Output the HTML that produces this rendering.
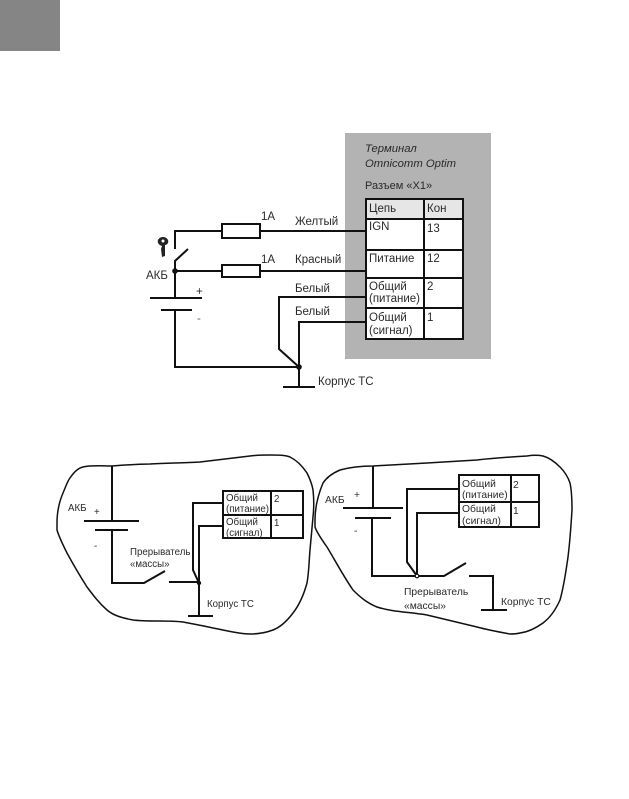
<!DOCTYPE html>
<html><head><meta charset="utf-8"><style>
html,body{margin:0;padding:0;background:#fff;width:629px;height:799px;overflow:hidden}
svg{display:block;filter:blur(.35px)}
text{font-family:"Liberation Sans",sans-serif;fill:#2a2a2a;font-size:11.5px}
.w{fill:none;stroke:#111;stroke-width:2}
.t{fill:none;stroke:#111;stroke-width:2}
.s{font-size:10.3px}
.l{font-size:9.7px}
.b{fill:none;stroke:#111;stroke-width:1.5}
</style></head><body>
<svg width="629" height="799" viewBox="0 0 629 799" xmlns="http://www.w3.org/2000/svg">
<rect x="0" y="0" width="60" height="51" fill="#858585"/>
<rect x="345" y="133" width="146" height="226" fill="#b3b3b3"/>
<rect x="366" y="199" width="97" height="20" fill="#e6e6e6"/>
<rect x="366" y="219" width="97" height="120" fill="#fff"/>
<path class="t" d="M366 199H463V339H366ZM424 199V339M366 219H463M366 250H463M366 278H463M366 308H463"/>
<text x="365" y="152" font-style="italic" style="font-size:11.3px">Терминал</text>
<text x="365" y="167" font-style="italic" style="font-size:11.3px">Omnicomm Optim</text>
<text x="365" y="189" style="font-size:11px">Разъем «X1»</text>
<text x="369" y="212">Цепь</text><text x="427" y="212">Кон</text>
<text x="369" y="230">IGN</text><text x="427" y="232">13</text>
<text x="369" y="262">Питание</text><text x="427" y="262">12</text>
<text x="369" y="290">Общий</text><text x="369" y="302">(питание)</text><text x="427" y="290">2</text>
<text x="369" y="321">Общий</text><text x="369" y="334">(сигнал)</text><text x="427" y="321">1</text>

<path class="w" d="M175 249V231H222M260 231H366"/>
<rect class="w" x="222" y="224" width="38" height="14"/>
<path class="w" d="M175 271V261L188 249M175 271H222M260 271H366"/>
<rect class="w" x="222" y="265" width="38" height="12"/>
<path class="w" d="M175 271V298M150 298H202M161 310H192M175 310V367H299M299 367V387M283 387H315"/>
<path class="w" d="M366 297H279V349L299 367M366 322H299V367"/>
<circle cx="175" cy="271" r="2.8" fill="#111"/><circle cx="299" cy="367" r="2.8" fill="#111"/>
<path d="M158 240C160 236 166 236 168 240C169 243 167 245 165 245L165 256L162 257L161 249L162 246C159 245 157 243 158 240Z" fill="#222"/>
<circle cx="163" cy="241" r="1.5" fill="#fff"/>
<text x="261" y="220">1A</text><text x="295" y="225">Желтый</text>
<text x="261" y="263">1A</text><text x="295" y="263">Красный</text>
<text x="295" y="292">Белый</text><text x="295" y="315">Белый</text>
<text x="146" y="279">АКБ</text><text x="196" y="295">+</text><text x="197" y="322" style="fill:#666">-</text>
<text x="318" y="385">Корпус ТС</text>

<path class="b" d="M57 523C57 510 60 500 63 493C66 486 68 480 70 478C74 472 78 468 83 467C92 465 102 466 112 466C125 465 138 464 150 464C167 463 184 463 200 462C217 460 234 458 250 456C258 455 264 455 270 455C278 455 285 455 290 457C298 461 303 467 307 473C310 479 312 484 313 490C314 499 314 508 313 517C312 528 311 539 310 550C309 561 309 572 307 583C304 594 300 604 293 613C287 621 281 627 273 630C265 633 258 634 250 634C244 634 239 633 233 632C217 629 200 625 183 622C166 620 150 622 133 620C123 618 114 616 107 610C99 603 93 595 87 587C80 576 73 564 67 553C63 545 59 537 57 530Z"/>
<path class="b" d="M315 520C315 508 318 495 323 483C327 477 333 473 340 470C351 467 362 466 373 466C391 465 409 464 427 463C444 462 460 461 477 460C494 458 510 457 527 456C533 455 538 455 543 456C550 458 555 462 560 467C565 472 568 477 570 483C572 492 572 501 572 510C571 526 570 541 568 557C566 571 564 586 560 600C556 609 551 617 543 623C536 628 528 632 520 633C516 634 513 634 510 634C499 632 488 630 477 627C460 623 444 619 427 615C410 612 392 612 377 607C367 603 360 597 353 590C344 577 336 562 327 547C322 540 317 533 315 527Z"/>

<path class="t" d="M223 491H303V538H223ZM271 491V538M223 515H303"/>
<path class="w" d="M112 466V521M84 521H139M95 530H128M112 530V583H144L165 571M169 582H199M199 583V616M188 616H213"/>
<path class="w" d="M223 503H193V570L199 583M223 526H199V583"/>
<circle cx="199" cy="583" r="2.2" fill="#111"/>
<text class="l" x="226" y="501">Общий</text><text class="l" x="226" y="512">(питание)</text>
<text class="l" x="226" y="525">Общий</text><text class="l" x="226" y="536">(сигнал)</text>
<text class="l" x="274" y="502">2</text><text class="l" x="274" y="526">1</text>
<text class="l" x="68" y="511">АКБ</text><text class="l" x="94" y="515">+</text><text class="l" x="94" y="549">-</text>
<text class="l" x="130" y="555">Прерыватель</text><text class="l" x="130" y="567">«массы»</text>
<text class="l" x="207" y="607">Корпус ТС</text>

<path class="t" d="M459 475H539V527H459ZM511 475V527M459 502H539"/>
<path class="w" d="M373 466V508M343 508H403M355 518H391M372 518V576H444L466 563M469 576H493V610M481 610H507"/>
<path class="w" d="M459 489H407V562L417 576M459 513H417V576"/>
<circle cx="417" cy="576" r="1.8" fill="#fff" stroke="#111" stroke-width="1.2"/>
<text class="s" x="462" y="487">Общий</text><text class="s" x="462" y="498">(питание)</text>
<text class="s" x="462" y="512">Общий</text><text class="s" x="462" y="524">(сигнал)</text>
<text class="s" x="513" y="488">2</text><text class="s" x="513" y="514">1</text>
<text class="s" x="325" y="503">АКБ</text><text class="s" x="354" y="498">+</text><text class="s" x="354" y="534">-</text>
<text class="s" x="404" y="595">Прерыватель</text><text class="s" x="404" y="609">«массы»</text>
<text class="s" x="501" y="605">Корпус ТС</text>
</svg>
</body></html>
